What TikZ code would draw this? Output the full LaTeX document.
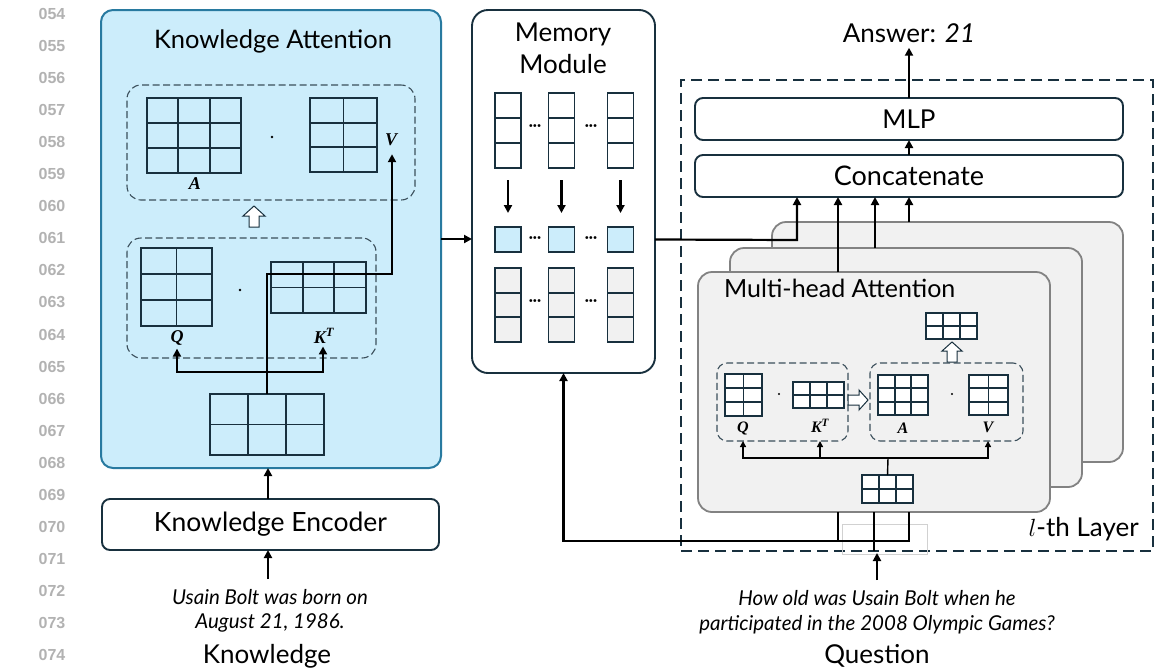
\documentclass[tikz,border=0pt]{standalone}
\usepackage{fontspec}
\setmainfont{Lato}
\newfontfamily\numfont{Liberation Sans}
\newfontfamily\serifb{Liberation Serif}
\usetikzlibrary{calc,arrows.meta}
\definecolor{kblue}{RGB}{204,237,251}
\definecolor{kborder}{RGB}{40,122,160}
\definecolor{dteal}{RGB}{24,48,62}
\definecolor{pgray}{RGB}{241,241,241}
\definecolor{bgray}{RGB}{130,130,130}
\definecolor{numgray}{RGB}{178,178,178}
\newcommand{\mtx}[8]{%
  \node[matbox,fill=#8,minimum width=#4pt,minimum height=#5pt] (#1) at (#2,#3) {};
  \ifnum#6>1
    \pgfmathtruncatemacro\mtxc{#6-1}%
    \foreach \i in {1,...,\mtxc}{\draw[matline] ($(#1.north west)!\i/#6!(#1.north east)$) -- ($(#1.south west)!\i/#6!(#1.south east)$);}%
  \fi
  \ifnum#7>1
    \pgfmathtruncatemacro\mtxr{#7-1}%
    \foreach \i in {1,...,\mtxr}{\draw[matline] ($(#1.north west)!\i/#7!(#1.south west)$) -- ($(#1.north east)!\i/#7!(#1.south east)$);}%
  \fi
}
\newcommand{\mlab}[1]{{\serifb\bfseries\itshape #1}}
\begin{document}
\begin{tikzpicture}[x=1pt,y=-1pt,
  conn/.style={line width=2.2pt,-{Triangle[length=8pt,width=8pt]}},
  tconn/.style={line width=1.4pt,-{Triangle[length=6pt,width=6pt]}},
  plain/.style={line width=2.2pt},
  tplain/.style={line width=1.4pt},
  matbox/.style={draw=dteal,line width=1.8pt,inner sep=0pt,outer sep=0pt,rectangle},
  matline/.style={draw=dteal,line width=1.8pt},
  dbox/.style={draw=dteal!85,line width=1.1pt,dash pattern=on 7pt off 3.5pt,rounded corners=14pt,inner sep=0pt,outer sep=0pt,rectangle},
  sbox/.style={draw=dteal,line width=1.9pt,rounded corners=8pt,fill=white,inner sep=0pt,outer sep=0pt,rectangle},
  kpanel/.style={draw=kborder,line width=2pt,fill=kblue,rounded corners=12pt,inner sep=0pt,outer sep=0pt,rectangle},
  layerpanel/.style={draw=bgray,line width=1.8pt,fill=pgray,rounded corners=14pt,inner sep=0pt,outer sep=0pt,rectangle},
  layerbox/.style={draw=dteal,line width=2.2pt,dash pattern=on 11pt off 6pt,inner sep=0pt,outer sep=0pt,rectangle},
  lbl/.style={inner sep=1pt,font=\fontsize{18}{21}\selectfont},
  slbl/.style={inner sep=1pt,font=\fontsize{16}{19}\selectfont},
  big/.style={inner sep=1pt,font=\fontsize{26}{32}\selectfont,align=center},
  ital/.style={inner sep=1pt,font=\fontsize{20.5}{24.5}\selectfont\itshape,align=center},
  numstyle/.style={font=\numfont\bfseries\fontsize{16}{18}\selectfont,text=numgray},
  hollow/.style={draw=dteal,line width=1pt,fill=white,line join=miter},
  mdot/.style={circle,fill=black,inner sep=0pt,minimum size=2.6pt},
  dots/.style={inner sep=0pt,font=\bfseries\fontsize{15}{15}\selectfont}
]
\useasboundingbox (0,0) rectangle (1155,670);

% line numbers
\foreach \k in {0,...,20}{
  \pgfmathtruncatemacro\n{54+\k}
  \node[numstyle] (ln\k) at (52,{14+32.05*\k}) {0\n};
}

% ================= Knowledge Attention panel =================
\node[kpanel,minimum width=340pt,minimum height=458pt] (katt) at (271,239) {};
\node[big,font=\fontsize{25.5}{30}\selectfont] (ktitle) at (273,41) {Knowledge Attention};

\node[dbox,minimum width=288pt,minimum height=115pt] (kdb1) at (271,142.5) {};
\mtx{kA}{194}{135.5}{94}{75}{3}{3}{kblue}
\node[lbl] (kAl) at (195,184) {\mlab{A}};
\node[mdot] (kdot1) at (272,137) {};
\mtx{kV}{343.5}{135}{67}{74}{2}{3}{kblue}
\node[lbl] (kVl) at (391,140) {\mlab{V}};

\draw[hollow] (249,227) -- (249,216) -- (243,216) -- (254,206) -- (265,216) -- (259,216) -- (259,227) -- cycle;

\node[dbox,minimum width=249pt,minimum height=120pt] (kdb2) at (251.5,298) {};
\mtx{kQ}{176.5}{287}{71}{78}{2}{3}{kblue}
\node[mdot] (kdot2) at (240,290) {};
\mtx{kK}{318.5}{287.5}{95}{51}{3}{2}{kblue}
\node[lbl] (kQl) at (177,338) {\mlab{Q}};
\node[lbl] (kKl) at (324,336) {\mlab{K\textsuperscript{T}}};

\mtx{kin}{267}{424.5}{114}{61}{3}{2}{kblue}
\coordinate (kj) at (267,372);
\coordinate (kturn) at (267,274);
\draw[plain] (kin.north) -- (kj);
\draw[conn] (kj) -| ($(kQl.south)+(0,2)$);
\draw[conn] (kj) -| ($(kKl.south)+(-1,2)$);
\draw[conn] (kj) -- (kturn) -| ($(kVl.south)+(1,7)$);

% Knowledge encoder
\node[sbox,minimum width=337pt,minimum height=51pt] (kenc) at (270.5,524.5) {};
\node[big,font=\fontsize{26.5}{32}\selectfont] (kenct) at (kenc.center) {Knowledge Encoder};
\coordinate (kencin) at (268,498.5);
\coordinate (kattin) at (268,468);
\draw[conn] (kencin) -- (kattin);
\node[ital] (ktext) at (270,611) {Usain Bolt was born on\\August 21, 1986.};
\node[big] (klab) at (267,656) {Knowledge};
\coordinate (ktop) at (268,579);
\coordinate (kencbot) at (268,550);
\draw[conn] (ktop) -- (kencbot);

% ================= Memory module =================
\node[sbox,rounded corners=16pt,minimum width=183pt,minimum height=363pt] (mem) at (563.5,191.5) {};
\node[big] (memt) at (563,48) {Memory\\Module};
\foreach \c/\x in {1/508,2/561.5,3/620.5}{
  \mtx{mt\c}{\x}{130.5}{26}{75}{1}{3}{white}
  \mtx{mb\c}{\x}{239.5}{26}{25}{1}{1}{kblue}
  \mtx{mg\c}{\x}{305}{26}{74}{1}{3}{pgray}
  \draw[conn] ($(mt\c.south)+(0,12)$) -- ($(mb\c.north)+(0,-14)$);
}
\foreach \y/\t in {128/t,240/b,303/g}{
  \node[dots] (md1\t) at (535,\y) {···};
  \node[dots] (md2\t) at (591,\y) {···};
}
\draw[conn] (katt.east) -- (katt.east -| mem.west);

% ================= l-th layer =================
\node[layerbox,minimum width=472pt,minimum height=471pt] (layer) at (917,315.5) {};
\node[sbox,minimum width=428pt,minimum height=42pt] (mlp) at (909,119) {};
\node[big] (mlpt) at (mlp.center) {MLP};
\node[sbox,minimum width=428pt,minimum height=42pt] (cat) at (909,176) {};
\node[big,font=\fontsize{27}{32}\selectfont] (catt) at (cat.center) {Concatenate};
\node[big] (ans) at (909,33) {Answer: \textit{21}};
\draw[conn] (cat.north) -- (mlp.south);
\draw[conn] (mlp.north) -- ($(ans.south)+(0,4)$);

\node[layerpanel,minimum width=351pt,minimum height=240pt] (back) at (947.5,342) {};
\node[layerpanel,minimum width=352pt,minimum height=239pt] (mid) at (906,367.5) {};
\node[layerpanel,minimum width=352pt,minimum height=240pt] (front) at (874,392) {};
\node[anchor=west,inner sep=0pt,font=\fontsize{25}{30}\selectfont] (mhat) at (724,288) {Multi-head Attention};

\mtx{hout}{951.5}{326}{51}{26}{3}{2}{white}
\draw[hollow] (947,362) -- (947,351) -- (942,351) -- (952,342) -- (962,351) -- (957,351) -- (957,362) -- cycle;
\node[dbox,rounded corners=10pt,minimum width=131pt,minimum height=78pt] (hdb1) at (782.5,402) {};
\node[dbox,rounded corners=10pt,minimum width=153pt,minimum height=78pt] (hdb2) at (946.5,402) {};
\mtx{hQ}{743.5}{395}{37}{42}{2}{3}{white}
\node[mdot,minimum size=2.2pt] (hdot1) at (779,394) {};
\mtx{hK}{818.5}{395}{51}{26}{3}{2}{white}
\mtx{hA}{903}{395}{50}{40}{3}{3}{white}
\node[mdot,minimum size=2.2pt] (hdot2) at (952,394) {};
\mtx{hV}{988.5}{395}{39}{40}{2}{3}{white}
\node[slbl] (hQl) at (743,428) {\mlab{Q}};
\node[slbl] (hKl) at (820,426) {\mlab{K\textsuperscript{T}}};
\node[slbl] (hAl) at (903,428) {\mlab{A}};
\node[slbl] (hVl) at (988,427) {\mlab{V}};
\draw[hollow] (848,395) -- (859,395) -- (859,390) -- (868,400) -- (859,410) -- (859,405) -- (848,405) -- cycle;
\mtx{hin}{887.5}{489}{51}{28}{3}{2}{white}
\coordinate (hj) at (888,458);
\draw[tplain] (hin.north) -- (hj);
\draw[tconn] (hj) -| (hQl.south |- hdb1.south);
\draw[tconn] (hj) -| (hKl.south |- hdb1.south);
\draw[tconn] (hj) -| (hVl.south |- hdb2.south);

% outputs to concatenate
\coordinate (fo) at ($(front.north west)+(140,0)$);
\coordinate (mo) at ($(mid.north west)+(145,0)$);
\coordinate (bo) at ($(back.north west)+(137,0)$);
\draw[conn] (fo) -- (fo |- cat.south);
\draw[conn] (mo) -- (mo |- cat.south);
\draw[conn] (bo) -- (bo |- cat.south);
\coordinate (mcat) at (797,240);
\draw[conn] (mb3.east -| mem.east) -- (mcat) -- (mcat |- cat.south);

% question inputs
\node[draw=black!18,line width=0.6pt,inner sep=0pt,minimum width=85pt,minimum height=30pt] (ghost) at (884.5,539) {};
\coordinate (qa) at (838,541);
\coordinate (qb) at (909,541);
\coordinate (qm) at (874,551);
\draw[plain] (front.south -| qa) -- (qa) -- (qb) -- (front.south -| qb);
\draw[plain] (front.south -| qm) -- (qm);
\draw[conn] (qa) -| (mem.south);
\node[ital] (qtext) at (877,612) {How old was Usain Bolt when he\\participated in the 2008 Olympic Games?};
\node[big] (qlab) at (877,656) {Question};
\coordinate (qtop) at (877,580);
\coordinate (qin) at (877,553);
\draw[conn] (qtop) -- (qin);
\node[big,anchor=east] (ltl) at (1140,529) {$l$-th Layer};
\end{tikzpicture}
\end{document}
